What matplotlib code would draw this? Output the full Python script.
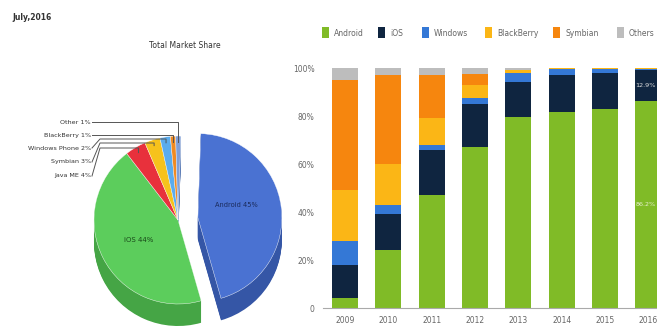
import matplotlib
matplotlib.use("Agg")
import matplotlib.pyplot as plt
import numpy as np
from matplotlib.patches import Rectangle

# ---------------- data ----------------
pie_labels = ["Android", "iOS", "Java ME", "Symbian", "Windows Phone", "BlackBerry", "Other"]
pie_values = [45, 44, 4, 3, 2, 1, 1]
pie_top_colors = ["#4a72d2", "#5ccd5c", "#e8313c", "#f6c21c", "#5aacee", "#f08a22", "#7f9fd8"]
pie_side_colors = ["#3556a6", "#45a545", "#b5222b", "#c79a12", "#3f86c2", "#c06a14", "#5f7fb8"]

years = ["2009", "2010", "2011", "2012", "2013", "2014", "2015", "2016"]
series_names = ["Android", "iOS", "Windows", "BlackBerry", "Symbian", "Others"]
android = [4, 24, 47, 67, 79.5, 81.5, 83, 86.2]
ios = [14, 15, 19, 18, 14.5, 15.5, 15, 12.9]
windows = [10, 4, 2, 2.5, 4, 2.5, 1.6, 0.6]
blackberry = [21, 17, 11, 5.5, 1, 0.3, 0.2, 0.1]
symbian = [46, 37, 18, 4.5, 0, 0, 0, 0]
others = [5, 3, 3, 2.5, 1, 0.2, 0.2, 0.2]
bar_colors = ["#80bb27", "#0f2540", "#3478d6", "#fbb616", "#f6860e", "#bdbdbd"]
y_ticks = [0, 20, 40, 60, 80, 100]
y_tick_labels = ["0", "20%", "40%", "60%", "80%", "100%"]

W, H = 657, 333
fig = plt.figure(figsize=(W / 100, H / 100), dpi=100)
fig.patch.set_facecolor("white")

# ---------------- left: 3D-looking pie ----------------
axp = fig.add_axes([0, 0, 300 / W, 1])
cx, cy, r = 178, H - 220, 84
depth = 22
start = 88
explode = [20, 0, 0, 0, 0, 0, 0]   # offset in axes data units (pixels here)
for d in np.arange(depth, 0, -1):
    axp.pie(pie_values, colors=pie_side_colors, startangle=start, counterclock=False,
            center=(cx, cy - d), radius=r, explode=explode, frame=True,
            wedgeprops=dict(linewidth=0))
wedges, _ = axp.pie(pie_values, colors=pie_top_colors, startangle=start, counterclock=False,
                    center=(cx, cy), radius=r, explode=explode, frame=True,
                    wedgeprops=dict(linewidth=0.3, edgecolor="white"))
axp.set_aspect("auto")
axp.set_xlim(0, 300)
axp.set_ylim(0, H)
axp.axis("off")

axp.text(236, H - 205, f"{pie_labels[0]} {pie_values[0]}%", fontsize=4.8, color="#1a2a5a",
         ha="center", va="center")
axp.text(139, H - 240, f"{pie_labels[1]} {pie_values[1]}%", fontsize=5, color="#1a4a1a",
         ha="center", va="center")

# leader labels for the small slices
label_y = {"Other": 122, "BlackBerry": 135, "Windows Phone": 148, "Symbian": 162, "Java ME": 176}
bend_y = {"Other": 122, "BlackBerry": 135, "Windows Phone": 139, "Symbian": 143, "Java ME": 148}
for w, name, val in zip(wedges[2:], pie_labels[2:], pie_values[2:]):
    ang = np.deg2rad((w.theta1 + w.theta2) / 2)
    tx = cx + 0.93 * r * np.cos(ang)
    ty = cy + 0.93 * r * np.sin(ang)
    ly = H - label_y[name]
    by = H - bend_y[name]
    axp.text(91, ly, f"{name} {val}%", fontsize=4.6, color="#333333", ha="right", va="center")
    axp.plot([92, 100, tx, tx], [ly, by, by, ty], color="#555555", lw=0.7)

fig.text(12 / W, 1 - 17 / H, "July,2016", fontsize=5.5, fontweight="bold", color="#333333",
         ha="left", va="center")
fig.text(185 / W, 1 - 45 / H, "Total Market Share", fontsize=5.5, color="#333333",
         ha="center", va="center")

# ---------------- right: stacked bars ----------------
ax = fig.add_axes([323 / W, 25 / H, (W - 323) / W, 240 / H])
x = np.arange(len(years))
bottom = np.zeros(len(years))
series = [android, ios, windows, blackberry, symbian, others]
for name, vals, col in zip(series_names, series, bar_colors):
    ax.bar(x, vals, width=0.6, bottom=bottom, color=col, label=name, linewidth=0)
    bottom += np.array(vals)

ax.set_xlim(-0.51, 7.2)
ax.set_ylim(0, 100)
ax.set_xticks(x)
ax.set_xticklabels(years, fontsize=5.5, color="#666666")
ax.set_yticks(y_ticks)
ax.set_yticklabels(y_tick_labels, fontsize=5.5, color="#666666")
ax.tick_params(length=0, pad=6)
for s in ["top", "right", "left"]:
    ax.spines[s].set_visible(False)
ax.spines["bottom"].set_color("#aaaaaa")
ax.spines["bottom"].set_linewidth(0.8)

ax.text(6.7, android[7] + ios[7] / 2, f"{ios[7]}%", color="#dddddd", fontsize=4.6,
        ha="left", va="center")
ax.text(6.7, android[7] / 2, f"{android[7]}%", color="#e8f0d0", fontsize=4.6,
        ha="left", va="center")

# legend
leg_x = [322, 378, 422, 485, 553, 617]
for lx, name, col in zip(leg_x, series_names, bar_colors):
    fig.patches.append(Rectangle((lx / W, 1 - 38 / H), 7 / W, 11 / H, transform=fig.transFigure,
                                 facecolor=col, edgecolor="none"))
    fig.text((lx + 12) / W, 1 - 33 / H, name, fontsize=5.5, color="#666666", ha="left", va="center")

fig.savefig("out.png", dpi=100, facecolor="white")
